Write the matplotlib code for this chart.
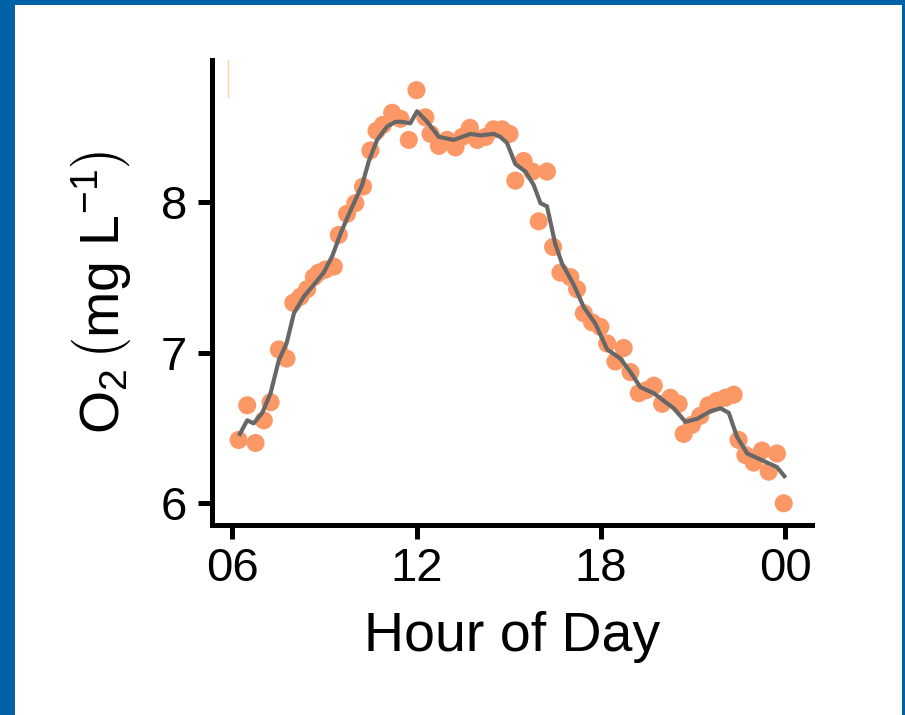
import matplotlib
matplotlib.use('Agg')
import matplotlib.pyplot as plt
from matplotlib.patches import Rectangle

plt.rcParams['font.family'] = ['Liberation Sans', 'DejaVu Sans']
plt.rcParams['mathtext.fontset'] = 'custom'
plt.rcParams['mathtext.rm'] = 'Liberation Sans'
plt.rcParams['mathtext.it'] = 'Liberation Sans:italic'

# observed O2 (points)
obs_hour = [6.20, 6.48, 6.75, 7.02, 7.24, 7.51, 7.76, 7.98, 8.21, 8.43, 8.65, 8.81,
            9.03, 9.30, 9.46, 9.73, 10.00, 10.25, 10.49, 10.69, 10.90, 11.20, 11.47,
            11.74, 11.99, 12.28, 12.45, 12.72, 12.99, 13.26, 13.48, 13.73, 13.97,
            14.24, 14.50, 14.78, 15.02, 15.21, 15.48, 15.76, 15.97, 16.24, 16.44,
            16.68, 17.00, 17.22, 17.44, 17.71, 17.98, 18.20, 18.47, 18.74, 18.96,
            19.23, 19.48, 19.72, 19.99, 20.26, 20.53, 20.69, 20.96, 21.23, 21.50,
            21.78, 22.05, 22.32, 22.48, 22.70, 22.97, 23.24, 23.46, 23.73, 23.95]
obs_o2 = [6.42, 6.65, 6.40, 6.55, 6.67, 7.02, 6.96, 7.33, 7.37, 7.42, 7.50, 7.53,
          7.55, 7.57, 7.78, 7.92, 7.99, 8.10, 8.34, 8.47, 8.51, 8.59, 8.55,
          8.41, 8.74, 8.56, 8.45, 8.37, 8.41, 8.36, 8.43, 8.49, 8.41,
          8.43, 8.48, 8.48, 8.45, 8.14, 8.27, 8.20, 7.87, 8.20, 7.70,
          7.53, 7.50, 7.42, 7.26, 7.20, 7.17, 7.06, 6.94, 7.03, 6.87,
          6.73, 6.75, 6.78, 6.66, 6.70, 6.66, 6.46, 6.52, 6.58, 6.65,
          6.68, 6.70, 6.72, 6.42, 6.32, 6.27, 6.35, 6.21, 6.33, 6.00]

# smoothed O2 (grey line)
fit_hour = [6.24, 6.48, 6.69, 6.97, 7.24, 7.51, 7.76, 8.00, 8.32, 8.65, 8.97, 9.25,
            9.52, 9.84, 10.22, 10.44, 10.71, 11.04, 11.31, 11.52, 11.79, 12.01,
            12.34, 12.72, 13.20, 13.75, 14.07, 14.51, 14.72, 14.94, 15.21, 15.54,
            15.81, 16.03, 16.24, 16.51, 16.73, 17.11, 17.44, 17.82, 18.20, 18.63,
            18.96, 19.28, 19.72, 20.04, 20.37, 20.75, 21.13, 21.56, 21.89, 22.16,
            22.43, 22.76, 23.09, 23.41, 23.73, 23.97]
fit_o2 = [6.46, 6.55, 6.53, 6.60, 6.73, 6.95, 7.06, 7.26, 7.37, 7.45, 7.53, 7.64,
          7.79, 7.94, 8.11, 8.27, 8.41, 8.50, 8.53, 8.53, 8.52, 8.60,
          8.53, 8.43, 8.41, 8.45, 8.44, 8.45, 8.43, 8.39, 8.25, 8.20,
          8.11, 7.99, 7.97, 7.72, 7.59, 7.45, 7.30, 7.19, 7.02, 6.96,
          6.87, 6.77, 6.73, 6.68, 6.63, 6.54, 6.56, 6.61, 6.63, 6.60,
          6.44, 6.33, 6.30, 6.27, 6.24, 6.18]

x_ticks = [6, 12, 18, 24]
x_labels = ['06', '12', '18', '00']
y_ticks = [6, 7, 8]

fig = plt.figure(figsize=(9.05, 7.15), dpi=100)
fig.patch.set_facecolor('#0062a6')
# white panel inside the blue frame
fig.patches.append(Rectangle((15 / 905, 0), 887 / 905, 1 - 5 / 715,
                             transform=fig.transFigure, facecolor='white',
                             edgecolor='none', zorder=-10))

ax = fig.add_axes([212 / 905, 1 - 525 / 715, 600 / 905, 465 / 715])
ax.set_facecolor('none')

ax.scatter(obs_hour, obs_o2, s=170, color='#fc9866', edgecolors='none', zorder=2)
ax.plot(fit_hour, fit_o2, color='#676767', lw=3.0, zorder=3)
ax.axvline(5.87, ymin=0.92, ymax=1.0, color='#ffd49a', lw=1)

ax.set_xlim(5.333, 24.87)
ax.set_ylim(5.856, 8.94)
ax.set_xticks(x_ticks)
ax.set_xticklabels(x_labels)
ax.set_yticks(y_ticks)

for side in ['top', 'right']:
    ax.spines[side].set_visible(False)
for side in ['left', 'bottom']:
    ax.spines[side].set_linewidth(3.6)
    ax.spines[side].set_capstyle('projecting')

ax.tick_params(axis='both', length=10, width=3.6, labelsize=34, color='black')
ax.tick_params(axis='x', pad=6)
ax.tick_params(axis='y', pad=8)

ax.set_xlabel('Hour of Day', fontsize=40, labelpad=14)
ax.set_ylabel(r'$\mathrm{O_2\,\left(mg\ L^{-1}\right)}$', fontsize=40, labelpad=20)

fig.savefig('out.png', dpi=100, facecolor=fig.get_facecolor())
